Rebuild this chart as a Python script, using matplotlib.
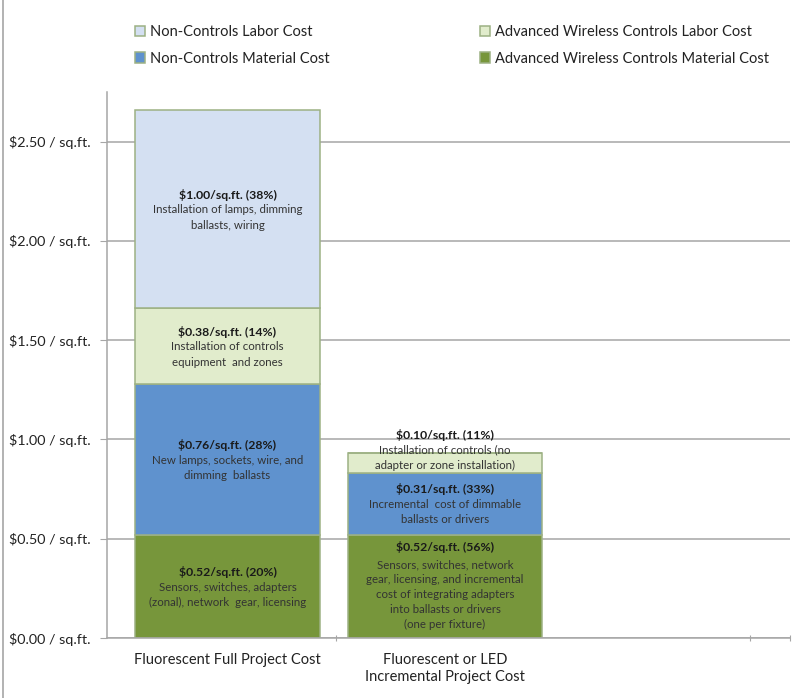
import matplotlib.pyplot as plt
from matplotlib.lines import Line2D
import numpy as np

plt.rcParams['font.family'] = ['Lato', 'DejaVu Sans']

categories = ["Fluorescent Full Project Cost", "Fluorescent or LED\nIncremental Project Cost"]
series_names = ["Advanced Wireless Controls Material Cost", "Non-Controls Material Cost",
                "Advanced Wireless Controls Labor Cost", "Non-Controls Labor Cost"]
aw_material = [0.52, 0.52]
nc_material = [0.76, 0.31]
aw_labor = [0.38, 0.10]
nc_labor = [1.00, 0.00]

values = [aw_material, nc_material, aw_labor, nc_labor]
colors = ["#77963B", "#5F92CE", "#E1ECCC", "#D4E0F2"]

labels_full = [
    ("$0.52/sq.ft. (20%)", "Sensors, switches, adapters\n(zonal), network  gear, licensing"),
    ("$0.76/sq.ft. (28%)", "New lamps, sockets, wire, and\ndimming  ballasts"),
    ("$0.38/sq.ft. (14%)", "Installation of controls\nequipment  and zones"),
    ("$1.00/sq.ft. (38%)", "Installation of lamps, dimming\nballasts, wiring"),
]
labels_incr = [
    ("$0.52/sq.ft. (56%)", "Sensors, switches, network\ngear, licensing, and incremental\n"
                           "cost of integrating adapters\ninto ballasts or drivers\n(one per fixture)"),
    ("$0.31/sq.ft. (33%)", "Incremental  cost of dimmable\nballasts or drivers"),
    ("$0.10/sq.ft. (11%)", "Installation of controls (no\nadapter or zone installation)"),
]

fig = plt.figure(figsize=(8, 6.98), dpi=100)
ax = fig.add_axes([107 / 800, 60 / 698, 683 / 800, 546 / 698])

x = np.arange(len(categories))
widths = [0.855, 0.895]
bottom = np.zeros(len(categories))
handles = {}
for name, vals, col in zip(series_names, values, colors):
    vals = np.array(vals)
    bars = ax.bar(x, vals, width=widths, bottom=bottom, color=col,
                  edgecolor="#9DB184", linewidth=1.1, zorder=2)
    handles[name] = bars
    bottom = bottom + vals

FS = 8.3
LS = 1.45
line_pt = FS * LS


def put_label(xpos, ycenter, head, body):
    n_body = body.count("\n") + 1
    n = n_body + 1
    head_off = (n - 1) / 2 * line_pt - 1.5
    body_off = (n - 1) / 2 * line_pt - line_pt / 2 - n_body / 2 * line_pt
    ax.annotate(head, (xpos, ycenter), xytext=(0, head_off), textcoords="offset points",
                ha="center", va="center", fontsize=8.8, color="#1a1a1a",
                fontweight="bold", zorder=4)
    ax.annotate(body, (xpos, ycenter), xytext=(0, body_off), textcoords="offset points",
                ha="center", va="center", fontsize=FS, color="#333333",
                linespacing=LS, zorder=3)


base = 0.0
for (head, body), vals in zip(labels_full, values):
    put_label(x[0], base + vals[0] / 2, head, body)
    base += vals[0]

base = 0.0
for i, (head, body) in enumerate(labels_incr):
    v = values[i][1]
    yc = base + v / 2
    if i == 2:
        yc = base + 0.12
    put_label(x[1], yc, head, body)
    base += v

ax.set_xlim(-0.554, 2.586)
ax.set_ylim(0, 2.75)
yt = [0, 0.5, 1.0, 1.5, 2.0, 2.5]
ax.set_yticks(yt)
ax.set_yticklabels([f"${v:.2f} / sq.ft." for v in yt], fontsize=10.4, color="#222222")
ax.yaxis.grid(True, color="#A6A6A6", linewidth=1.1, zorder=0)
ax.set_axisbelow(True)

ax.set_xticks([0.5, 2.402, 2.586])
ax.set_xticklabels([])
ax.tick_params(axis="x", length=5, color="#A6A6A6", direction="inout")
ax.tick_params(axis="y", length=5, color="#A6A6A6", pad=7)
for i, c in enumerate(categories):
    ax.text(x[i], -0.078, c, ha="center", va="top", fontsize=10.5, color="#222222",
            linespacing=1.2, clip_on=False)

for s in ["top", "right"]:
    ax.spines[s].set_visible(False)
for s in ["left", "bottom"]:
    ax.spines[s].set_color("#A6A6A6")
    ax.spines[s].set_linewidth(1.1)

leg_order = ["Non-Controls Labor Cost", "Non-Controls Material Cost",
             "Advanced Wireless Controls Labor Cost", "Advanced Wireless Controls Material Cost"]
leg = fig.legend([handles[n] for n in leg_order], leg_order, ncol=2, loc="upper left",
                 bbox_to_anchor=(122 / 800, 1 - 12 / 698), frameon=False, fontsize=10.5,
                 handlelength=0.7, handleheight=0.7, handletextpad=0.35,
                 columnspacing=10.25, labelspacing=0.85)
for t in leg.get_texts():
    t.set_color("#222222")

fig.add_artist(Line2D([3 / 800, 3 / 800], [0, 1], color="#A6A6A6", linewidth=1.2))

fig.savefig("out.png", dpi=100)
